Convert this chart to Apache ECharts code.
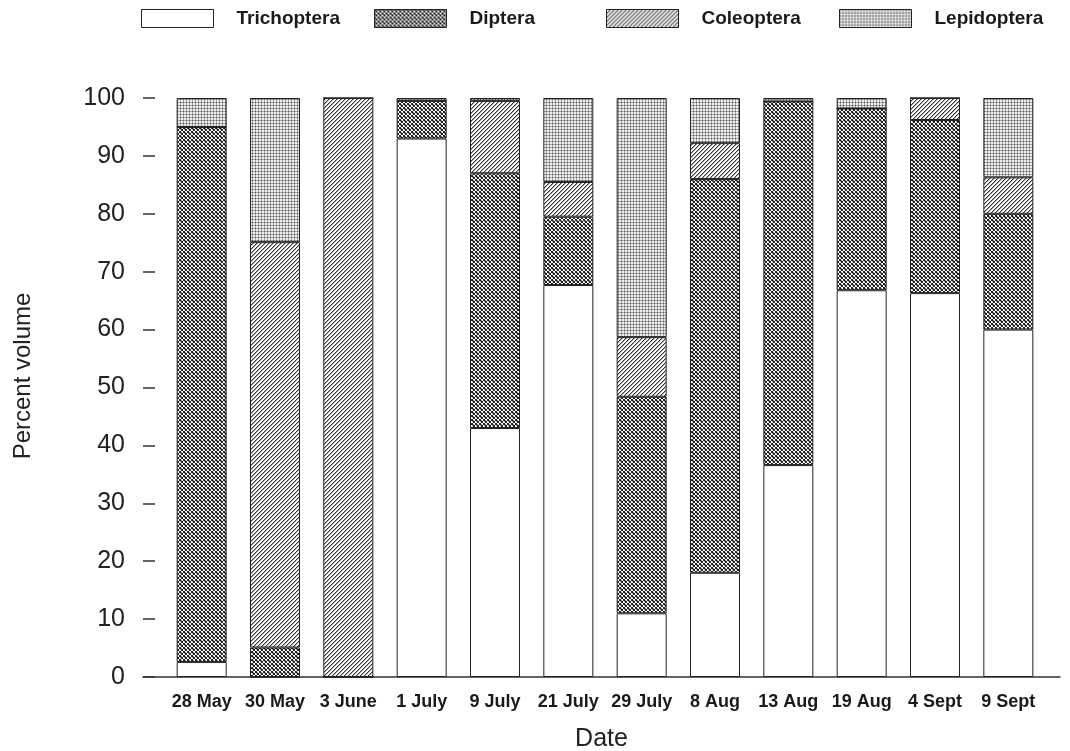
<!DOCTYPE html>
<html>
<head>
<meta charset="utf-8">
<script src="https://cdn.jsdelivr.net/npm/echarts@6/dist/echarts.min.js"></script>
<style>html,body{margin:0;padding:0;background:#fff}#c{width:1070px;height:751px}</style>
</head>
<body>
<div id="c"></div>
<script>
const categories = ['28 May','30 May','3 June','1 July','9 July','21 July','29 July','8 Aug','13 Aug','19 Aug','4 Sept','9 Sept'];
const trichoptera = [2.6, 0, 0, 93.0, 43.0, 67.7, 11.0, 18.0, 36.6, 66.8, 66.3, 60.0];
const diptera     = [92.4, 5.1, 0, 6.5, 44.0, 11.8, 37.4, 68.0, 62.8, 31.4, 29.9, 20.0];
const coleoptera  = [0, 70.0, 100, 0, 12.5, 6.0, 10.3, 6.2, 0, 0, 3.8, 6.3];
const lepidoptera = [5.0, 24.9, 0, 0.5, 0.5, 14.5, 41.3, 7.8, 0.6, 1.8, 0, 13.7];
const yTicks = [0,10,20,30,40,50,60,70,80,90,100];

function tile(w, h, draw) {
  const c = document.createElement('canvas');
  c.width = w; c.height = h;
  const g = c.getContext('2d');
  draw(g);
  return c;
}
const dipteraPat = tile(4, 4, g => {
  g.fillStyle = '#fff'; g.fillRect(0,0,4,4);
  g.fillStyle = '#222';
  for (let i = 0; i < 4; i++) { g.fillRect(i, i, 1, 1); g.fillRect(3 - i, i, 1, 1); }
  g.fillStyle = '#888';
  g.fillRect(1,0,1,1); g.fillRect(0,1,1,1);
});
const coleopteraPat = tile(4, 4, g => {
  g.fillStyle = '#fff'; g.fillRect(0,0,4,4);
  g.fillStyle = '#333';
  for (let i = 0; i < 4; i++) { g.fillRect(i, 3 - i, 1, 1); }
  g.fillStyle = '#aaa';
  for (let i = 0; i < 4; i++) { g.fillRect((i + 1) % 4, 3 - i, 1, 1); }
});
const lepidopteraPat = tile(3, 3, g => {
  g.fillStyle = '#ececec'; g.fillRect(0,0,3,3);
  g.fillStyle = '#aaa';
  g.fillRect(0,0,3,1); g.fillRect(0,0,1,3);
  g.fillStyle = '#555';
  g.fillRect(0,0,1,1);
});

const border = { borderColor: '#222', borderWidth: 1 };
const names = ['Trichoptera','Diptera','Coleoptera','Lepidoptera'];
const fills = ['#ffffff', {image: dipteraPat, repeat: 'repeat'}, {image: coleopteraPat, repeat: 'repeat'}, {image: lepidopteraPat, repeat: 'repeat'}];
const values = [trichoptera, diptera, coleoptera, lepidoptera];
const legendLeft = [141, 374, 606, 839];

const chart = echarts.init(document.getElementById('c'));
chart.setOption({
  animation: false,
  backgroundColor: '#fff',
  legend: names.map((n, i) => ({
    data: [n], left: legendLeft[i], top: 9, itemWidth: 72, itemHeight: 18,
    icon: 'rect', selectedMode: false, padding: 0,
    itemStyle: { borderColor: '#222', borderWidth: 1 },
    textStyle: { fontFamily: 'Liberation Sans', fontWeight: 'bold', fontSize: 19, color: '#1a1a1a',
      verticalAlign: 'top', lineHeight: 8, padding: [0,0,0,18] }
  })),
  grid: [
    { left: 143, right: 10, top: 98, bottom: 74, outerBoundsMode: 'none' },
    { left: 165, right: 25, top: 98, bottom: 74, outerBoundsMode: 'none' }
  ],
  xAxis: [
    { type: 'value', gridIndex: 0, min: 0, max: 1,
      axisLine: { show: true, lineStyle: { color: '#333', width: 1.5 } },
      axisTick: { show: false }, axisLabel: { show: false }, splitLine: { show: false },
      name: 'Date', nameLocation: 'middle', nameGap: 50,
      nameTextStyle: { fontFamily: 'Liberation Sans', fontSize: 25, color: '#222' } },
    { type: 'category', gridIndex: 1, data: categories,
      axisLine: { show: false }, axisTick: { show: false },
      axisLabel: { margin: 16, fontFamily: 'Liberation Sans', fontWeight: 'bold', fontSize: 18, color: '#1a1a1a', interval: 0 } }
  ],
  yAxis: [
    { type: 'value', gridIndex: 0, min: yTicks[0], max: yTicks[yTicks.length - 1], interval: 10,
      axisLine: { show: false },
      axisTick: { show: true, inside: true, length: 12, lineStyle: { color: '#333', width: 1.5 } },
      axisLabel: { margin: 18, fontFamily: 'Liberation Sans', fontSize: 25, color: '#222' },
      splitLine: { show: false },
      name: 'Percent volume', nameLocation: 'middle', nameGap: 108, nameRotate: 90,
      nameTextStyle: { fontFamily: 'Liberation Sans', fontSize: 24, color: '#222', padding: [0,0,0,23] } },
    { type: 'value', gridIndex: 1, min: 0, max: 100, show: false }
  ],
  series: names.map((n, i) => ({
    name: n, type: 'bar', stack: 'total', xAxisIndex: 1, yAxisIndex: 1,
    barWidth: 50, data: values[i],
    itemStyle: Object.assign({ color: fills[i] }, border)
  }))
});
</script>
</body>
</html>
